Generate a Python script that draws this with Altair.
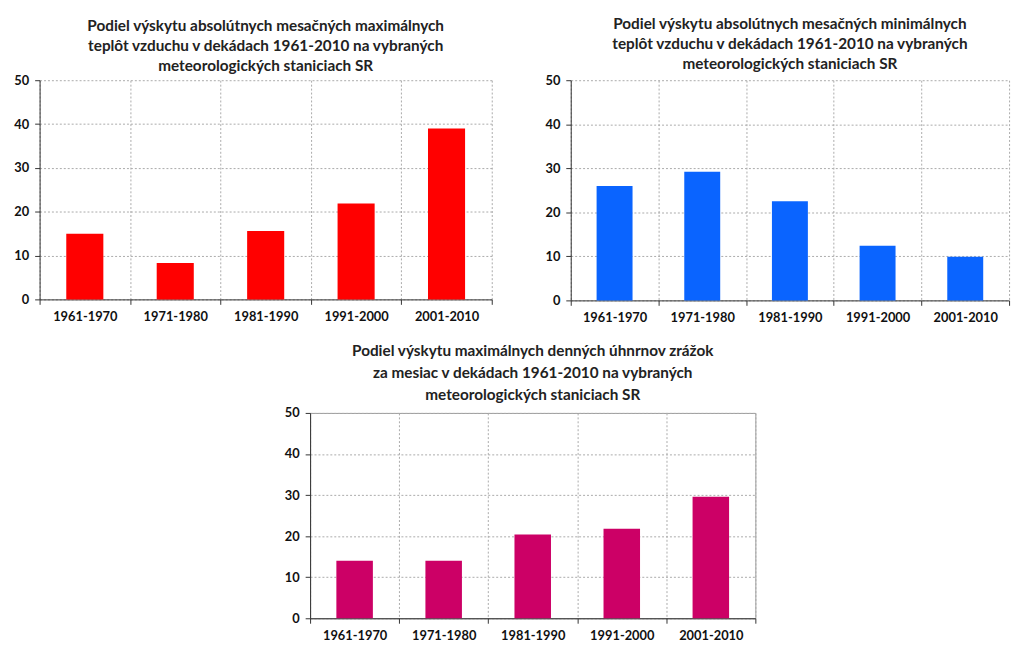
import altair as alt
import pandas as pd

decades = ["1961-1970", "1971-1980", "1981-1990", "1991-2000", "2001-2010"]
max_temp = [15.0, 8.3, 15.6, 21.9, 39.0]
min_temp = [26.0, 29.2, 22.5, 12.4, 9.9]
precip = [14.0, 14.0, 20.4, 21.8, 29.6]

title_max = ["Podiel výskytu absolútnych mesačných maximálnych",
             "teplôt vzduchu  v dekádach 1961-2010 na vybraných",
             "meteorologických staniciach SR"]
title_min = ["Podiel výskytu absolútnych mesačných minimálnych",
             "teplôt vzduchu v dekádach 1961-2010 na vybraných",
             "meteorologických staniciach SR"]
title_prec = ["Podiel výskytu maximálnych denných úhnrnov zrážok",
              "za mesiac v dekádach 1961-2010 na vybraných",
              "meteorologických staniciach SR"]

FONT = "Lato"


def panel(values, color, title_lines, w, h, stroke=None, line_height=20, offset=2):
    df = pd.DataFrame({"dekada": decades, "podiel": values})
    ch = alt.Chart(
        df,
        title=alt.Title(title_lines, font=FONT, fontSize=15.5, fontWeight="bold",
                        anchor="middle", color="#222222", offset=offset,
                        lineHeight=line_height),
    ).mark_bar(color=color, width=alt.RelativeBandSize(0.41)).encode(
        x=alt.X("dekada:N", sort=decades, title=None,
                scale=alt.Scale(paddingInner=0, paddingOuter=0),
                axis=alt.Axis(labelAngle=0, tickBand="extent", grid=True,
                              labelPadding=6, tickSize=5,
                              labelFont=FONT, labelFontSize=13, labelFontWeight="bold",
                              labelColor="#111111")),
        y=alt.Y("podiel:Q", title=None, scale=alt.Scale(domain=[0, 50], nice=False),
                axis=alt.Axis(values=[0, 10, 20, 30, 40, 50], grid=True,
                              tickSize=5, labelPadding=6,
                              labelFont=FONT, labelFontSize=13, labelFontWeight="bold",
                              labelColor="#111111")),
    ).properties(width=w, height=h)
    if stroke:
        ch = ch.properties(view=alt.ViewConfig(stroke=stroke))
    return ch


c1 = panel(max_temp, "#FF0000", title_max, 458, 222, line_height=20, offset=0)
c2 = panel(min_temp, "#0A64FF", title_min, 444, 223)
c3 = panel(precip, "#CC0066", title_prec, 451, 208, stroke="#999999",
           line_height=22, offset=4)

spacer = alt.Chart(pd.DataFrame({"a": [0]})).mark_text().encode(
    text=alt.value("")
).properties(width=247, height=208)

chart = alt.vconcat(
    alt.hconcat(c1, c2, spacing=52),
    alt.hconcat(spacer, c3, spacing=0),
    spacing=20,
).configure_view(stroke=None).configure_axis(
    domainColor="#333333", tickColor="#333333", gridColor="#aaaaaa",
    gridDash=[2, 2], gridWidth=1,
)

chart.save("out.html", embed_options={"renderer": "svg", "actions": False})
